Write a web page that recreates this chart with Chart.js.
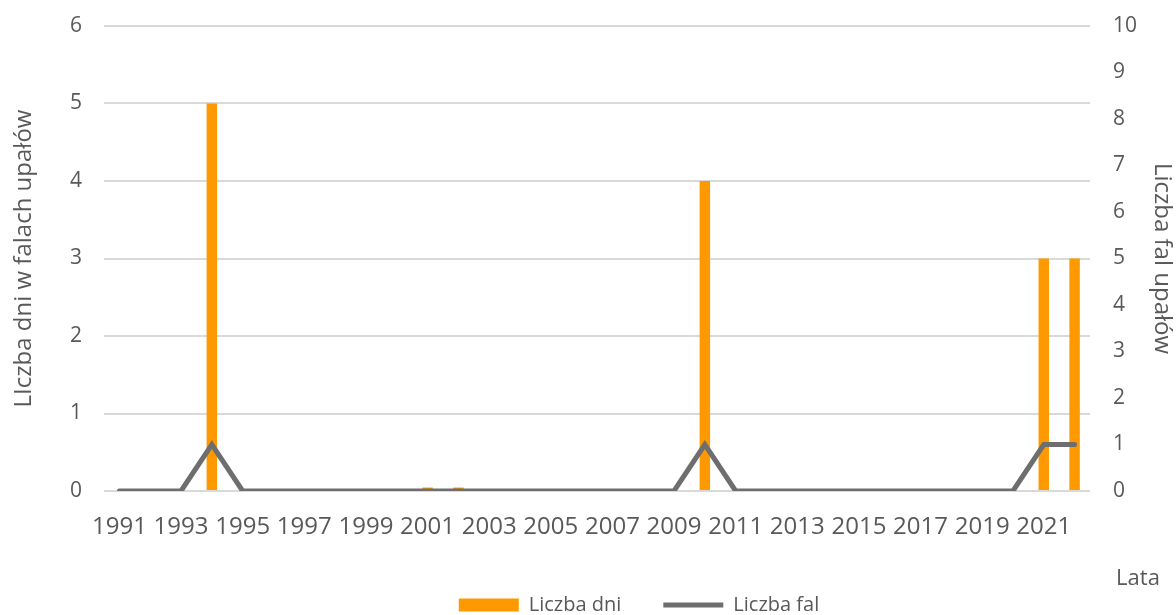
<!DOCTYPE html>
<html>
<head>
<meta charset="utf-8">
<script src="https://cdn.jsdelivr.net/npm/chart.js@4/dist/chart.umd.min.js"></script>
<style>
  html, body { margin: 0; padding: 0; background: #fff; }
  #wrap { width: 1176px; height: 615px; }
</style>
</head>
<body>
<div id="wrap"><canvas id="c"></canvas></div>
<script>
// years 1991-2022
const lata = [
  '1991','1992','1993','1994','1995','1996','1997','1998','1999','2000',
  '2001','2002','2003','2004','2005','2006','2007','2008','2009','2010',
  '2011','2012','2013','2014','2015','2016','2017','2018','2019','2020',
  '2021','2022'
];
// number of days in heat waves (left axis)
const liczbaDni = [
  0, 0, 0, 5, 0, 0, 0, 0, 0, 0,
  0.045, 0.045, 0, 0, 0, 0, 0, 0, 0, 4,
  0, 0, 0, 0, 0, 0, 0, 0, 0, 0,
  3, 3
];
// number of heat waves (right axis)
const liczbaFal = [
  0, 0, 0, 1, 0, 0, 0, 0, 0, 0,
  0, 0, 0, 0, 0, 0, 0, 0, 0, 1,
  0, 0, 0, 0, 0, 0, 0, 0, 0, 0,
  1, 1
];

const FONT = '"Open Sans", "Noto Sans", sans-serif';
const TXT = '#595959';
const LEG_PAD = 42;

// "Lata" label below the right axis + legend placement
const extras = {
  id: 'extras',
  afterLayout(chart) {
    const lg = chart.legend;
    const dx = 51;
    lg.left += dx; lg.right += dx;
    // legend items are drawn at top + padding + itemHeight/2
    lg.top = 605 - LEG_PAD - 10;
    lg.bottom = 615;
    lg.height = lg.bottom - lg.top;
  },
  afterDraw(chart) {
    const ctx = chart.ctx;
    ctx.save();
    ctx.font = '22px ' + FONT;
    ctx.fillStyle = TXT;
    ctx.textAlign = 'center';
    ctx.textBaseline = 'middle';
    ctx.fillText('Lata', 1138, 579);
    ctx.restore();
  }
};

function noPad(s) { s.paddingTop = 0; s.paddingBottom = 0; }

const ctx = document.getElementById('c').getContext('2d');
const chart = new Chart(ctx, {
  data: {
    labels: lata,
    datasets: [{
      type: 'line',
      label: 'Liczba fal',
      data: liczbaFal,
      yAxisID: 'y2',
      borderColor: '#6e6e6e',
      backgroundColor: '#6e6e6e',
      borderWidth: 5,
      borderCapStyle: 'round',
      borderJoinStyle: 'miter',
      pointRadius: 0,
      pointStyle: 'line',
      tension: 0,
      order: 0
    }, {
      type: 'bar',
      label: 'Liczba dni',
      data: liczbaDni,
      yAxisID: 'y',
      backgroundColor: '#ff9900',
      borderWidth: 0,
      barPercentage: 0.34,
      categoryPercentage: 1,
      pointStyle: 'rect',
      order: 1
    }]
  },
  options: {
    responsive: true,
    maintainAspectRatio: false,
    animation: false,
    layout: { padding: { top: 26, right: 0, left: 0, bottom: 0 } },
    plugins: {
      tooltip: { enabled: false },
      legend: {
        position: 'bottom',
        maxHeight: 40,
        reverse: true,
        labels: {
          usePointStyle: true,
          pointStyleWidth: 60,
          boxHeight: 13,
          padding: LEG_PAD,
          color: TXT,
          font: { family: FONT, size: 20 }
        }
      }
    },
    scales: {
      x: {
        offset: true,
        grid: { display: false },
        border: { display: false },
        ticks: {
          autoSkip: false,
          maxRotation: 0,
          minRotation: 0,
          padding: 14,
          color: TXT,
          font: { family: FONT, size: 24 },
          callback: function(val, i) { return i % 2 === 0 ? lata[i] : ''; }
        },
        afterFit: function(s) { s.height = 615 - 40 - 491; }
      },
      y: {
        position: 'left',
        min: 0,
        max: 6,
        grid: { color: '#d9d9d9', lineWidth: 2, drawTicks: false },
        border: { display: false },
        ticks: {
          stepSize: 1,
          padding: 22,
          color: TXT,
          font: { family: FONT, size: 21 }
        },
        title: {
          display: true,
          text: 'LIczba dni w falach upałów',
          color: TXT,
          font: { family: FONT, size: 24 },
          padding: { top: 10, bottom: 0 }
        },
        afterFit: function(s) { s.width = 104; noPad(s); }
      },
      y2: {
        position: 'right',
        min: 0,
        max: 10,
        grid: { display: false, drawTicks: false },
        border: { display: false },
        ticks: {
          stepSize: 1,
          padding: 23,
          color: TXT,
          font: { family: FONT, size: 21 }
        },
        title: {
          display: true,
          text: 'Liczba fal upałów',
          color: TXT,
          font: { family: FONT, size: 24 },
          padding: { top: 0, bottom: 0 }
        },
        afterFit: function(s) { s.width = 86; noPad(s); }
      }
    }
  },
  plugins: [extras]
});
</script>
</body>
</html>
